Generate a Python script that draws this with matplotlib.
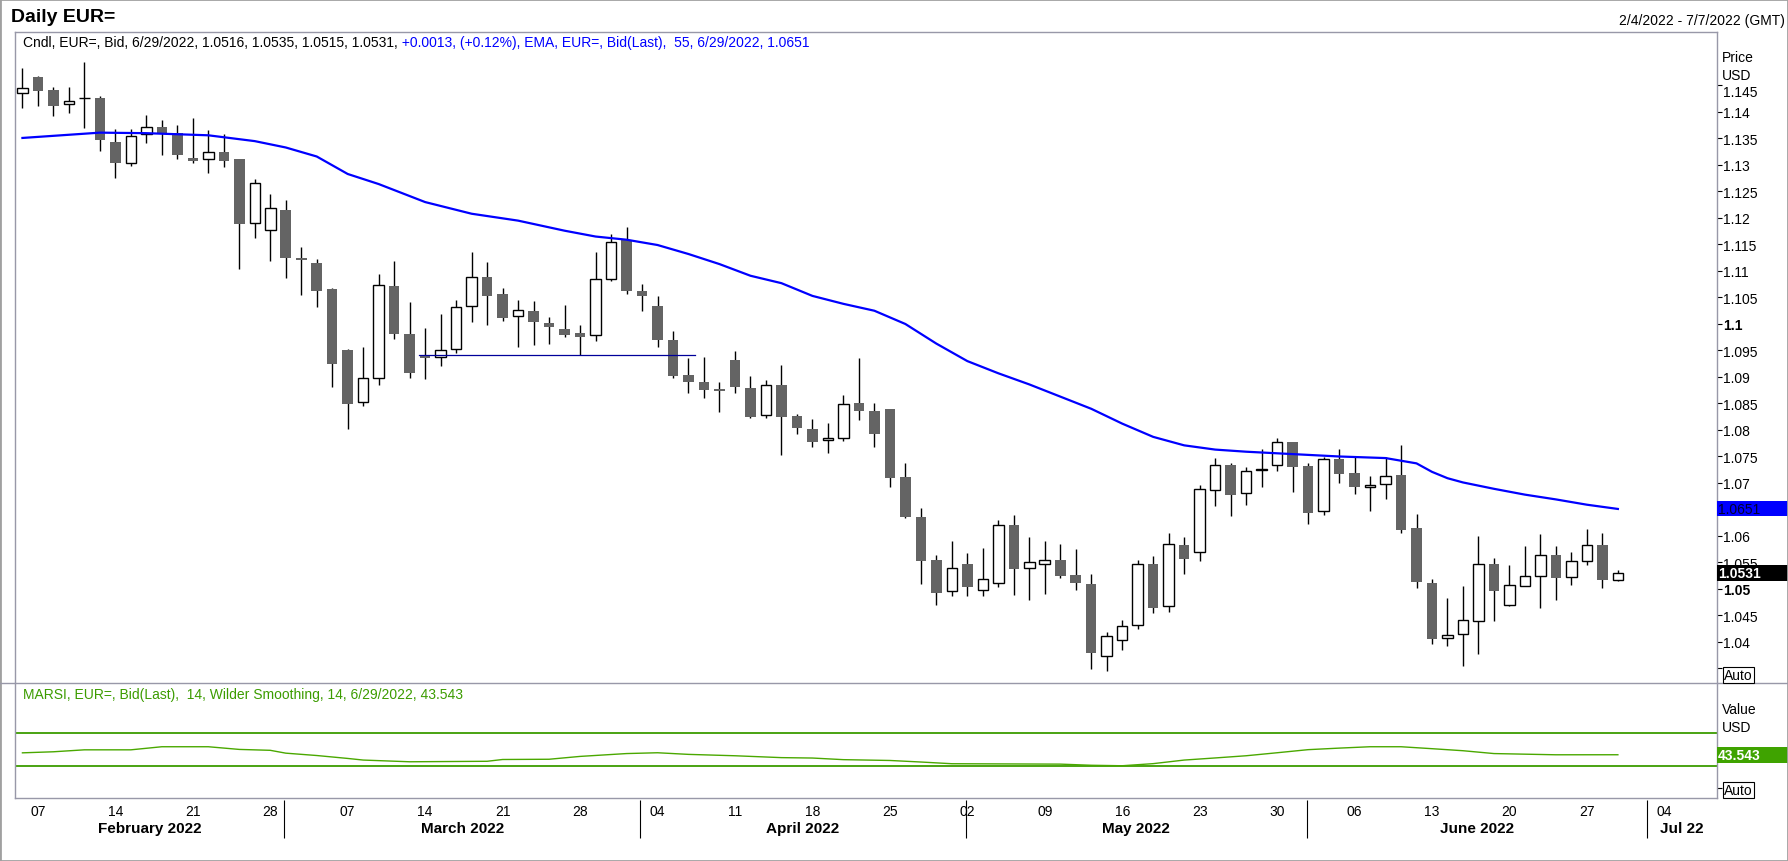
"""Daily EUR= candlestick chart with EMA(55) and RSI(14) panel."""

import matplotlib.pyplot as plt
import numpy as np
import pandas as pd

from matplotlib.lines import Line2D
from matplotlib.patches import Rectangle

plt.rcParams['font.family'] = ['Liberation Sans', 'DejaVu Sans']

# ---- data -------------------------------------------------------------
# trading days shown on the axis (2/4/2022 - 7/7/2022)
axis_days = pd.bdate_range('2022-02-04', '2022-07-07')

opens = [1.1435, 1.1466, 1.1442, 1.1415, 1.1426, 1.1426, 1.1343, 1.1303, 1.1359, 1.1372,
         1.1360, 1.1313, 1.1311, 1.1325, 1.1311, 1.1190, 1.1177, 1.1215, 1.1125, 1.1115,
         1.1066, 1.0951, 1.0852, 1.0899, 1.1071, 1.0981, 1.0940, 1.0937, 1.0952, 1.1033,
         1.1088, 1.1056, 1.1015, 1.1025, 1.1002, 1.0991, 1.0983, 1.0979, 1.1085, 1.1159,
         1.1062, 1.1034, 1.0970, 1.0904, 1.0891, 1.0878, 1.0932, 1.0879, 1.0828, 1.0885,
         1.0826, 1.0802, 1.0781, 1.0784, 1.0851, 1.0836, 1.0840, 1.0711, 1.0636, 1.0555,
         1.0496, 1.0547, 1.0499, 1.0512, 1.0621, 1.0540, 1.0548, 1.0555, 1.0526, 1.0509,
         1.0374, 1.0403, 1.0432, 1.0547, 1.0467, 1.0583, 1.0569, 1.0686, 1.0733, 1.0681,
         1.0725, 1.0733, 1.0777, 1.0732, 1.0647, 1.0745, 1.0718, 1.0692, 1.0698, 1.0715,
         1.0615, 1.0511, 1.0407, 1.0415, 1.0439, 1.0547, 1.0469, 1.0506, 1.0524, 1.0564,
         1.0522, 1.0552, 1.0583, 1.0516]
highs = [1.1483, 1.1467, 1.1447, 1.1447, 1.1495, 1.1430, 1.1368, 1.1368, 1.1394, 1.1385,
         1.1376, 1.1389, 1.1366, 1.1359, 1.1312, 1.1274, 1.1245, 1.1233, 1.1145, 1.1123,
         1.1067, 1.0952, 1.0956, 1.1094, 1.1119, 1.1041, 1.0993, 1.1019, 1.1045, 1.1136,
         1.1117, 1.1068, 1.1045, 1.1043, 1.1013, 1.1036, 1.0998, 1.1136, 1.1169, 1.1183,
         1.1076, 1.1053, 1.0987, 1.0936, 1.0938, 1.0891, 1.0949, 1.0902, 1.0894, 1.0923,
         1.0830, 1.0821, 1.0813, 1.0866, 1.0936, 1.0851, 1.0840, 1.0738, 1.0653, 1.0564,
         1.0590, 1.0568, 1.0577, 1.0630, 1.0640, 1.0598, 1.0591, 1.0585, 1.0576, 1.0528,
         1.0418, 1.0442, 1.0555, 1.0562, 1.0606, 1.0598, 1.0696, 1.0747, 1.0738, 1.0730,
         1.0764, 1.0785, 1.0778, 1.0737, 1.0749, 1.0764, 1.0749, 1.0713, 1.0749, 1.0772,
         1.0642, 1.0519, 1.0483, 1.0506, 1.0600, 1.0559, 1.0545, 1.0581, 1.0604, 1.0581,
         1.0569, 1.0613, 1.0606, 1.0535]
lows = [1.1408, 1.1412, 1.1393, 1.1399, 1.1370, 1.1327, 1.1276, 1.1299, 1.1342, 1.1319,
        1.1312, 1.1303, 1.1284, 1.1297, 1.1103, 1.1163, 1.1119, 1.1086, 1.1054, 1.1032,
        1.0882, 1.0802, 1.0846, 1.0885, 1.0972, 1.0898, 1.0896, 1.0921, 1.0946, 1.1004,
        1.0999, 1.1006, 1.0957, 1.0961, 1.0963, 1.0976, 1.0942, 1.0967, 1.1081, 1.1057,
        1.1025, 1.0957, 1.0898, 1.0870, 1.0861, 1.0833, 1.0869, 1.0822, 1.0822, 1.0753,
        1.0793, 1.0767, 1.0757, 1.0780, 1.0819, 1.0767, 1.0693, 1.0633, 1.0509, 1.0469,
        1.0487, 1.0487, 1.0487, 1.0503, 1.0489, 1.0480, 1.0491, 1.0521, 1.0499, 1.0349,
        1.0346, 1.0385, 1.0425, 1.0455, 1.0457, 1.0529, 1.0553, 1.0657, 1.0638, 1.0659,
        1.0693, 1.0722, 1.0683, 1.0623, 1.0640, 1.0700, 1.0679, 1.0648, 1.0669, 1.0606,
        1.0502, 1.0397, 1.0393, 1.0355, 1.0377, 1.0440, 1.0468, 1.0505, 1.0465, 1.0480,
        1.0508, 1.0546, 1.0501, 1.0515]
closes = [1.1445, 1.1440, 1.1412, 1.1420, 1.1426, 1.1348, 1.1303, 1.1355, 1.1371, 1.1360,
          1.1319, 1.1308, 1.1324, 1.1308, 1.1189, 1.1266, 1.1218, 1.1125, 1.1120, 1.1063,
          1.0925, 1.0849, 1.0898, 1.1073, 1.0981, 1.0908, 1.0936, 1.0950, 1.1032, 1.1088,
          1.1053, 1.1012, 1.1026, 1.1003, 1.0995, 1.0980, 1.0976, 1.1084, 1.1154, 1.1063,
          1.1052, 1.0969, 1.0901, 1.0891, 1.0876, 1.0874, 1.0882, 1.0825, 1.0884, 1.0825,
          1.0804, 1.0778, 1.0785, 1.0849, 1.0835, 1.0793, 1.0710, 1.0635, 1.0553, 1.0493,
          1.0540, 1.0503, 1.0519, 1.0620, 1.0538, 1.0550, 1.0554, 1.0525, 1.0511, 1.0379,
          1.0411, 1.0430, 1.0547, 1.0465, 1.0584, 1.0557, 1.0688, 1.0733, 1.0678, 1.0722,
          1.0726, 1.0777, 1.0731, 1.0644, 1.0745, 1.0716, 1.0693, 1.0697, 1.0713, 1.0612,
          1.0514, 1.0406, 1.0413, 1.0441, 1.0547, 1.0497, 1.0507, 1.0524, 1.0564, 1.0521,
          1.0552, 1.0583, 1.0516, 1.0531]

# EMA(55) at candle positions
ema_idx = [0, 3, 5, 8, 12, 15, 17, 19, 21, 23, 26, 29, 32, 35, 37, 39, 41, 43, 45, 47,
           49, 51, 53, 55, 57, 59, 61, 63, 65, 67, 69, 71, 73, 75, 77, 79, 81, 83, 85, 87,
           88, 89, 90, 91, 92, 93, 95, 97, 99, 101, 103]
ema_val = [1.1351, 1.1357, 1.1361, 1.1360, 1.1356, 1.1345, 1.1333, 1.1316, 1.1283, 1.1264,
           1.1230, 1.1208, 1.1195, 1.1176, 1.1165, 1.1159, 1.1149, 1.1132, 1.1113, 1.1091,
           1.1077, 1.1053, 1.1038, 1.1025, 1.1000, 1.0963, 1.0930, 1.0907, 1.0886, 1.0863,
           1.0840, 1.0812, 1.0787, 1.0771, 1.0763, 1.0759, 1.0756, 1.0753, 1.0750, 1.0748,
           1.0747, 1.0742, 1.0737, 1.0721, 1.0709, 1.0701, 1.0689, 1.0678, 1.0669, 1.0659,
           1.0651]

# RSI(14)
rsi_idx = [0, 2, 4, 7, 9, 12, 14, 16, 17, 19, 21, 22, 25, 30, 31, 34, 36, 39, 41, 43,
           46, 49, 51, 53, 56, 58, 60, 67, 69, 71, 73, 75, 77, 79, 81, 83, 85, 87, 89, 91,
           93, 95, 99, 103]
rsi_val = [45.9, 47.2, 49.6, 49.6, 53.4, 53.4, 50.1, 49.0, 45.5, 42.6, 39.0, 37.0, 34.9,
           35.5, 37.7, 38.0, 41.5, 45.0, 46.0, 44.0, 42.3, 40.0, 39.5, 37.5, 36.5, 34.6,
           32.5, 32.0, 30.6, 30.0, 32.6, 37.0, 39.6, 42.3, 46.0, 49.8, 51.7, 53.4, 53.4,
           51.0, 48.5, 45.0, 43.5, 43.543]
rsi_levels = [70, 30]

# user drawn support line
trend_idx = [25.6, 43.4]
trend_val = [1.0941, 1.0941]

price_ticks = np.round(np.arange(1.035, 1.1451, 0.005), 3)
bold_ticks = [1.05, 1.1]
hidden_ticks = [1.035, 1.065, 1.145]   # covered by Auto / EMA box / header
last_close = closes[-1]
last_ema = ema_val[-1]
last_rsi = rsi_val[-1]
month_names = ['February 2022', 'March 2022', 'April 2022', 'May 2022', 'June 2022', 'Jul 22']

# ---- figure -----------------------------------------------------------
W, H = 1788, 862
fig = plt.figure(figsize=(W / 100, H / 100), dpi=100, facecolor='white')


def fx(px):
    return px / W


def fy(py):
    return 1 - py / H


left, right = fx(15), fx(1716.7)
ax = fig.add_axes([left, fy(684), right - left, fy(33) - fy(684)])
ax2 = fig.add_axes([left, fy(799), right - left, fy(684) - fy(799)], sharex=ax)

spine_col = '#9898a8'
for a in (ax, ax2):
    for s in a.spines.values():
        s.set_color(spine_col)
        s.set_linewidth(1.0)
ax.spines['bottom'].set_visible(False)
ax2.spines['top'].set_visible(False)

# candles
x = np.arange(len(opens))
o, h, l, c = map(np.array, (opens, highs, lows, closes))
up = c >= o
ax.vlines(x, l, h, color='black', lw=1.0, zorder=2)
ax.bar(x[up], (c - o)[up], bottom=o[up], width=0.68, facecolor='white',
       edgecolor='black', lw=1.0, zorder=3)
ax.bar(x[~up], (o - c)[~up], bottom=c[~up], width=0.68, color='#646464',
       lw=0, zorder=3)

# EMA and trend line
ax.plot(ema_idx, ema_val, color='#0000ff', lw=1.6, zorder=4)
ax.plot(trend_idx, trend_val, color='#00009a', lw=0.9, zorder=4)

ax.set_xlim(-0.48, 109.38)
ax.set_ylim(1.03226, 1.15509)
ax.tick_params(axis='x', bottom=False, labelbottom=False)
ax.yaxis.tick_right()
labels = ['' if v in hidden_ticks else f'{v:g}' for v in price_ticks]
ax.set_yticks(price_ticks, labels)
ax.tick_params(axis='y', direction='out', length=3.8, width=0.8, pad=0.8,
               labelsize=10, colors='black')
for v, t in zip(price_ticks, ax.get_yticklabels()):
    if v in bold_ticks:
        t.set_fontweight('bold')
ax.annotate('1.145', xy=(1, 1.145), xycoords=ax.get_yaxis_transform(),
            xytext=(6.4, -7), textcoords='offset pixels', va='center', fontsize=10)

# RSI panel
ax2.plot(rsi_idx, rsi_val, color='#4aa800', lw=1.0, zorder=3)
for lv in rsi_levels:
    ax2.axhline(lv, color='#3c9c00', lw=1.3, zorder=2)
ax2.set_ylim(-9.69, 131.85)
ax2.yaxis.tick_right()
ax2.set_yticks([50, 2.6], ['', ''])
ax2.tick_params(axis='y', direction='out', length=3.8, width=0.8, pad=0.8,
                labelsize=10, colors='black')

# date axis
day_pos = [i for i, d in enumerate(axis_days) if d.weekday() == 0]
day_lab = [axis_days[i].strftime('%d') for i in day_pos]
ax2.set_xticks(day_pos, day_lab)
ax2.tick_params(axis='x', length=0, pad=4.5, labelsize=10)

month_start = [i for i in range(1, len(axis_days))
               if axis_days[i].month != axis_days[i - 1].month]
seps = [m - 0.1 for m in month_start]
xt = ax2.get_xaxis_transform()
ax2.vlines(seps, -0.352, -0.0174, transform=xt, clip_on=False, color='black', lw=0.8)
lo, hi = ax2.get_xlim()
bounds = [lo] + seps + [hi]
for name, a, b in zip(month_names, bounds[:-1], bounds[1:]):
    ax2.text((a + b) / 2, -0.261, name, transform=xt, ha='center', va='center',
             fontsize=11, fontweight='bold')


# value boxes on the right scale
def value_box(axis, val, half_h, fc, text, tc, weight):
    yt = axis.get_yaxis_transform()
    axis.add_patch(Rectangle((1.0, val - half_h), 0.0425, 2 * half_h, transform=yt,
                             fc=fc, ec='none', clip_on=False, zorder=5))
    axis.text(1.0008, val, text, transform=yt, va='center', ha='left', color=tc,
              fontsize=10, fontweight=weight, clip_on=False, zorder=6)


value_box(ax, last_ema, 0.00142, '#0000ff', f'{last_ema:.4f}', '#000030', 'normal')
value_box(ax, last_close, 0.00151, 'black', f'{last_close:.4f}', 'white', 'bold')
value_box(ax2, last_rsi, 9.85, '#3fa300', f'{last_rsi:.3f}', 'white', 'bold')

# header texts
fig.text(fx(11), fy(17), 'Daily EUR=', fontsize=14, fontweight='bold', va='center')
fig.text(fx(1785), fy(20.5), '2/4/2022 - 7/7/2022 (GMT)', fontsize=10,
         ha='right', va='center')
fig.text(fx(1722), fy(58), 'Price', fontsize=10, va='center')
fig.text(fx(1722), fy(76), 'USD', fontsize=10, va='center')
fig.text(fx(1722), fy(710), 'Value', fontsize=10, va='center')
fig.text(fx(1722), fy(728), 'USD', fontsize=10, va='center')
auto_box = dict(boxstyle='square,pad=0.1', fc='white', ec='black', lw=0.8)
fig.text(fx(1724), fy(676), 'Auto', fontsize=10, va='center', bbox=auto_box)
fig.text(fx(1724), fy(791), 'Auto', fontsize=10, va='center', bbox=auto_box)

# legends
t1 = ax.text(0.0047, 0.9846, 'Cndl, EUR=, Bid, 6/29/2022, 1.0516, 1.0535, 1.0515, 1.0531,',
             transform=ax.transAxes, fontsize=10, va='center', color='black')
renderer = fig.canvas.get_renderer()
x1 = ax.transAxes.inverted().transform(t1.get_window_extent(renderer).p1)[0]
ax.text(x1, 0.9846, ' +0.0013, (+0.12%), EMA, EUR=, Bid(Last),  55, 6/29/2022, 1.0651',
        transform=ax.transAxes, fontsize=10, va='center', color='#0000ff')
ax2.text(0.0047, 0.904, 'MARSI, EUR=, Bid(Last),  14, Wilder Smoothing, 14, 6/29/2022, 43.543',
         transform=ax2.transAxes, fontsize=10, va='center', color='#3c9c00')

# panel separator and outer frame
fig.add_artist(Line2D([0, 1], [fy(684), fy(684)], transform=fig.transFigure,
                      color=spine_col, lw=1.0))
fig.add_artist(Rectangle((0, 0), 1, 1, transform=fig.transFigure, fill=False,
                         ec='#a0a0a0', lw=2))

fig.savefig('out.png', dpi=100, facecolor='white')
